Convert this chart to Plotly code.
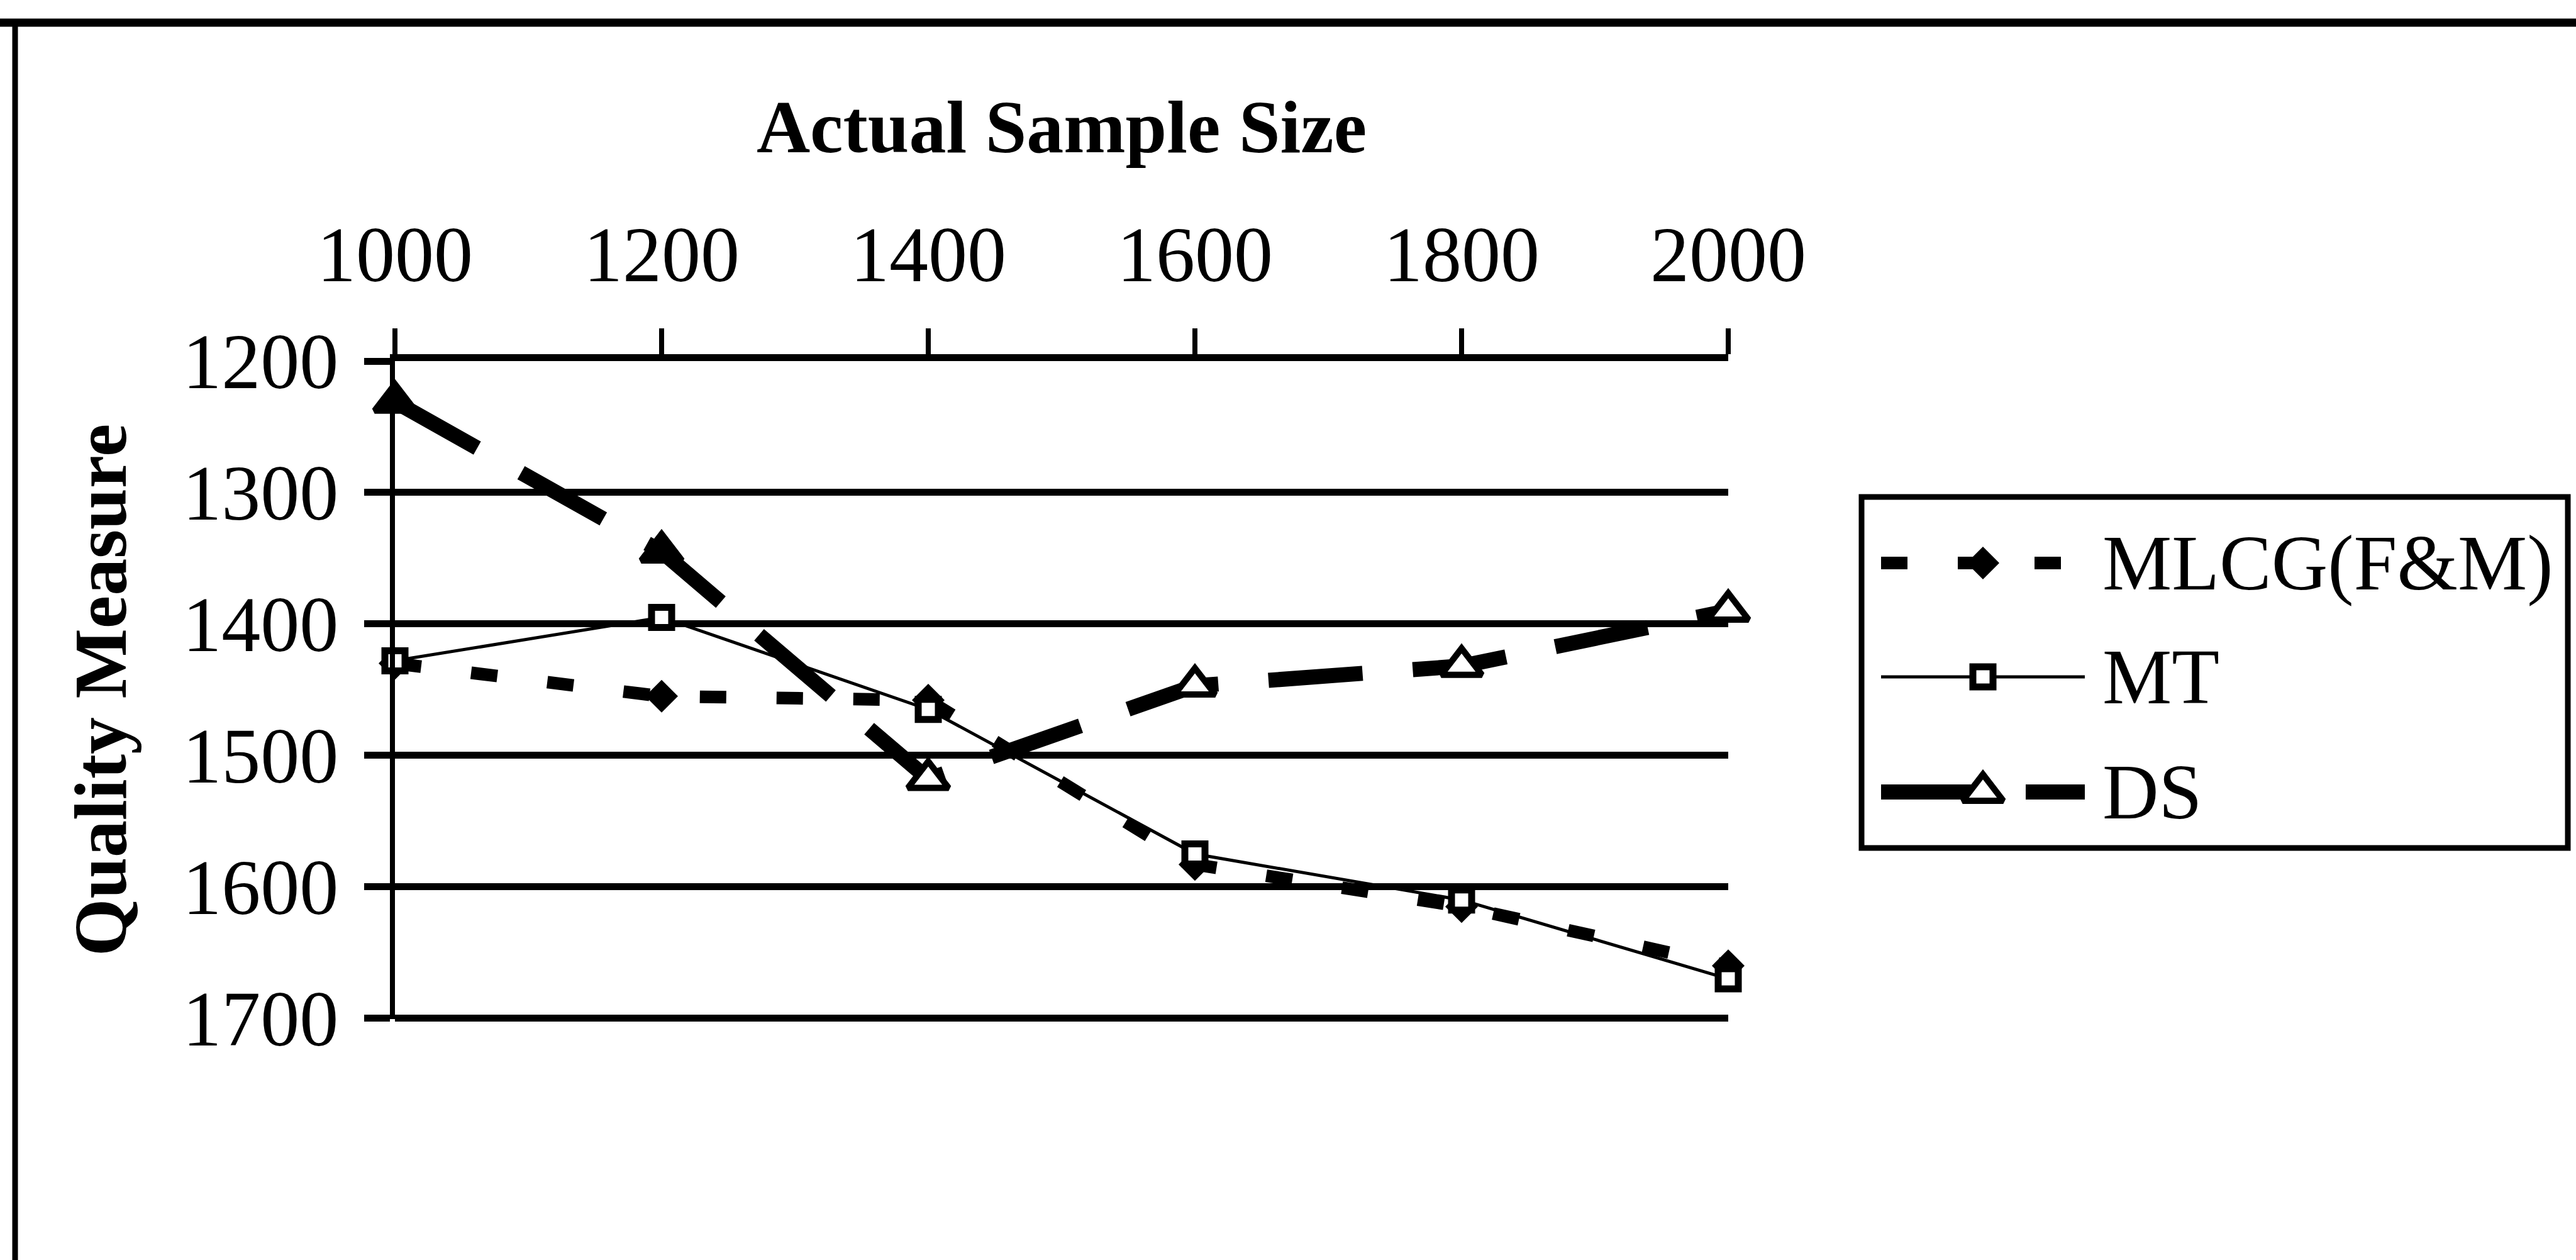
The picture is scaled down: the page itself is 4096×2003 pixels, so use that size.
import plotly.graph_objects as go

# ---- data ----
sample_size = [1000, 1200, 1400, 1600, 1800, 2000]
mlcg = [1430, 1455, 1458, 1583, 1615, 1660]
mt = [1428, 1395, 1465, 1575, 1610, 1670]
ds = [1231, 1345, 1518, 1447, 1432, 1390]
x_ticks = [1000, 1200, 1400, 1600, 1800, 2000]
y_ticks = [1200, 1300, 1400, 1500, 1600, 1700]
series_names = ["MLCG(F&M)", "MT", "DS"]
x_title = "Actual Sample Size"
y_title = "Quality Measure"

FONT = "Liberation Serif, Times New Roman, serif"
W, H = 4096, 2003

# plot area and legend box, in window pixels
PL, PR, PT, PB = 628, 2748, 574, 1620
LL, LR, LT, LB = 2960, 4083, 790, 1348


def fx(px):
    return px / W


def fy(py):
    return 1 - py / H


# ---- series styles ----
styles = [
    dict(line=dict(color="black", width=20, dash="42px,80px"),
         marker=dict(symbol="diamond", size=40, color="black", line=dict(width=0))),
    dict(line=dict(color="black", width=5),
         marker=dict(symbol="square", size=32, color="white",
                     line=dict(color="black", width=11))),
    dict(line=dict(color="black", width=24, dash="150px,80px"),
         marker=dict(symbol="triangle-up", size=56,
                     color=["black", "black", "white", "white", "white", "white"],
                     line=dict(color="black", width=10))),
]
series_values = [mlcg, mt, ds]

fig = go.Figure()
for name, vals, st in zip(series_names, series_values, styles):
    fig.add_trace(go.Scatter(
        x=sample_size, y=vals, name=name, mode="lines+markers",
        line=st["line"], marker=st["marker"],
        cliponaxis=False, showlegend=False, xaxis="x", yaxis="y"))

# ---- hand-built legend (own little subplot in pixel units) ----
legend_rows = [895, 1076, 1259]
sample_x0, sample_mid, sample_x1 = 2991, 3153, 3315
text_x = 3341
for name, st, ry in zip(series_names, styles, legend_rows):
    fig.add_trace(go.Scatter(
        x=[sample_x0, sample_x1], y=[ry, ry], mode="lines",
        line=st["line"], showlegend=False, hoverinfo="skip",
        xaxis="x2", yaxis="y2", cliponaxis=False))
    mk = dict(st["marker"])
    if isinstance(mk.get("color"), list):
        mk["color"] = "white"
    fig.add_trace(go.Scatter(
        x=[sample_mid], y=[ry], mode="markers", marker=mk,
        showlegend=False, hoverinfo="skip",
        xaxis="x2", yaxis="y2", cliponaxis=False))

annotations = [
    dict(x=text_x, y=ry, xref="x2", yref="y2", text=name, showarrow=False,
         xanchor="left", yanchor="middle",
         font=dict(family=FONT, size=124, color="black"))
    for name, ry in zip(series_names, legend_rows)
]

fig.update_layout(
    width=W, height=H,
    paper_bgcolor="white", plot_bgcolor="white",
    margin=dict(l=0, r=0, t=0, b=0, autoexpand=False),
    font=dict(family=FONT, color="black", size=124),
    showlegend=False,
    xaxis=dict(
        domain=[fx(PL), fx(PR)], anchor="y",
        side="top", range=[1000, 2000], tickvals=x_ticks,
        ticktext=[str(v) for v in x_ticks],
        ticks="outside", ticklen=41, tickwidth=8, tickcolor="black",
        showline=True, linecolor="black", linewidth=11,
        showgrid=False, zeroline=False,
        tickfont=dict(family=FONT, size=124, color="black"),
        ticklabelstandoff=25,
        title=dict(text="<b>" + x_title + "</b>", standoff=60,
                   font=dict(family=FONT, size=118, color="black")),
    ),
    yaxis=dict(
        domain=[fy(PB), fy(PT)], anchor="x",
        range=[1700.6, 1200], tickvals=y_ticks,
        ticktext=[str(v) for v in y_ticks],
        ticks="outside", ticklen=41, tickwidth=11, tickcolor="black",
        showline=True, linecolor="black", linewidth=8,
        showgrid=True, gridcolor="black", gridwidth=11, zeroline=False,
        tickfont=dict(family=FONT, size=124, color="black"),
        ticklabelstandoff=16,
        title=dict(text="<b>" + y_title + "</b>", standoff=53,
                   font=dict(family=FONT, size=118, color="black")),
    ),
    xaxis2=dict(domain=[fx(LL), fx(LR)], range=[LL, LR], anchor="y2",
                visible=False, fixedrange=True),
    yaxis2=dict(domain=[fy(LB), fy(LT)], range=[LB, LT], anchor="x2",
                visible=False, fixedrange=True),
    annotations=annotations,
    shapes=[
        # outer frame (top and left edges visible in the reference)
        dict(type="line", xref="paper", yref="paper",
             x0=0, x1=1, y0=fy(36), y1=fy(36),
             line=dict(color="black", width=13)),
        dict(type="line", xref="paper", yref="paper",
             x0=fx(24), x1=fx(24), y0=fy(30), y1=0,
             line=dict(color="black", width=9)),
        # legend box
        dict(type="rect", xref="paper", yref="paper",
             x0=fx(LL), x1=fx(LR), y0=fy(LB), y1=fy(LT),
             line=dict(color="black", width=9), fillcolor="rgba(0,0,0,0)",
             layer="below"),
    ],
)

fig.write_html("out.html")
